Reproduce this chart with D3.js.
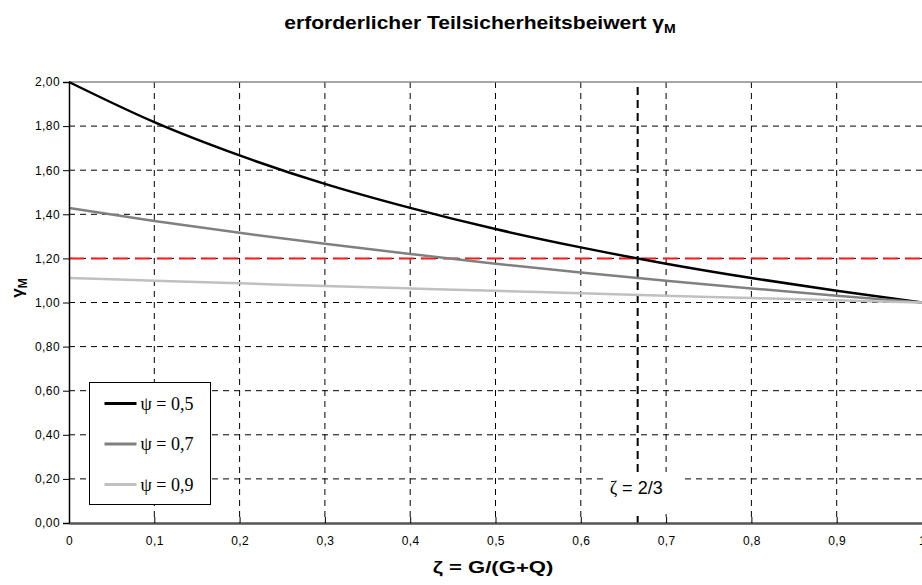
<!DOCTYPE html>
<html>
<head>
<meta charset="utf-8">
<script src="https://cdn.jsdelivr.net/npm/d3@7"></script>
<style>
body { margin: 0; background: #fff; }
text { font-family: Arial, "Liberation Sans", sans-serif; }
</style>
</head>
<body>
<svg width="922" height="585"></svg>
<script>
// zeta values along the x axis
var zeta = [0, 0.1, 0.2, 0.3, 0.4, 0.5, 0.6, 0.7, 0.8, 0.9, 1];
// gamma_M
var psi05 = [2.00, 1.818, 1.667, 1.538, 1.429, 1.333, 1.250, 1.176, 1.111, 1.053, 1.00];
var psi07 = [1.429, 1.370, 1.316, 1.266, 1.220, 1.176, 1.136, 1.099, 1.064, 1.031, 1.00];
var psi09 = [1.111, 1.099, 1.087, 1.075, 1.064, 1.053, 1.042, 1.031, 1.020, 1.010, 1.00];
var seriesNames = ["\u03C8 = 0,5", "\u03C8 = 0,7", "\u03C8 = 0,9"];
var seriesColors = ["#000000", "#808080", "#c0c0c0"];
var xTicks = [0, 0.1, 0.2, 0.3, 0.4, 0.5, 0.6, 0.7, 0.8, 0.9, 1];
var yTicks = [0, 0.2, 0.4, 0.6, 0.8, 1.0, 1.2, 1.4, 1.6, 1.8, 2.0];
var limitGamma = 1.2;   // red line
var markZeta = 2 / 3;   // vertical marker

var svg = d3.select("svg"),
    pL = 69, pR = 922, pT = 82, pB = 523;

var x = d3.scaleLinear().domain([0, 1]).range([pL, pR]),
    y = d3.scaleLinear().domain([0, 2]).range([pB, pT]);

var fmt = function(d) { return d === 0 || d === 1 ? String(d) : d3.format(".1f")(d).replace(".", ","); };
var fmtY = function(d) { return d3.format(".2f")(d).replace(".", ","); };

// grid
svg.append("g").selectAll("line")
    .data(yTicks.filter(function(d) { return d > 0 && d < 2; }))
    .enter().append("line")
    .attr("x1", pL).attr("x2", pR)
    .attr("y1", function(d) { return y(d); }).attr("y2", function(d) { return y(d); })
    .attr("stroke", "#000").attr("stroke-width", 1).attr("stroke-dasharray", "6,5");

svg.append("g").selectAll("line")
    .data(xTicks.filter(function(d) { return d > 0 && d < 1; }))
    .enter().append("line")
    .attr("x1", function(d) { return x(d); }).attr("x2", function(d) { return x(d); })
    .attr("y1", pT).attr("y2", pB)
    .attr("stroke", "#000").attr("stroke-width", 1).attr("stroke-dasharray", "6,5");

// top border
svg.append("line")
    .attr("x1", pL).attr("x2", pR).attr("y1", pT).attr("y2", pT)
    .attr("stroke", "#888").attr("stroke-width", 1.5);

// red limit line
svg.append("line")
    .attr("x1", pL).attr("x2", pR)
    .attr("y1", y(limitGamma)).attr("y2", y(limitGamma))
    .attr("stroke", "#ff1a1a").attr("stroke-width", 2).attr("stroke-dasharray", "15,7");

// vertical zeta = 2/3 marker
svg.append("line")
    .attr("x1", x(markZeta)).attr("x2", x(markZeta))
    .attr("y1", pT + 5).attr("y2", pB)
    .attr("stroke", "#000").attr("stroke-width", 2).attr("stroke-dasharray", "8,5");

// curves
var line = d3.line()
    .x(function(d) { return x(d[0]); })
    .y(function(d) { return y(d[1]); })
    .curve(d3.curveMonotoneX);

[psi05, psi07, psi09].forEach(function(vals, i) {
    svg.append("path")
        .datum(zeta.map(function(z, j) { return [z, vals[j]]; }))
        .attr("d", line)
        .attr("fill", "none")
        .attr("stroke", seriesColors[i])
        .attr("stroke-width", 2.5);
});

// marker label
var lab = svg.append("g").attr("transform", "translate(" + (x(markZeta) - 33) + "," + 472 + ")");
lab.append("rect").attr("width", 78).attr("height", 42).attr("fill", "#fff");
lab.append("text").attr("x", 5).attr("y", 22)
    .style("font-size", "18px")
    .html('<tspan style="font-family:\'Liberation Serif\',serif">\u03B6</tspan> = 2/3');

// axes
var yAxis = svg.append("g")
    .attr("transform", "translate(" + pL + ",0)")
    .call(d3.axisLeft(y).tickValues(yTicks).tickFormat(fmtY).tickSize(6).tickPadding(3));
yAxis.select(".domain").attr("stroke", "#000").attr("stroke-width", 1.5);
yAxis.selectAll("text").style("font-size", "12px").style("letter-spacing", "0.4px").attr("fill", "#000");

var xAxis = svg.append("g")
    .attr("transform", "translate(0," + pB + ")")
    .call(d3.axisBottom(x).tickValues(xTicks).tickFormat(fmt).tickSize(0).tickPadding(13));
xAxis.select(".domain").attr("stroke", "#555").attr("stroke-width", 2.5);
xAxis.selectAll("text").style("font-size", "12px").style("letter-spacing", "0.4px").attr("fill", "#000");
xAxis.selectAll(".tick").append("line").attr("y1", -6).attr("y2", 0).attr("stroke", "#000");

// legend
var leg = svg.append("g").attr("transform", "translate(89.5,382.5)");
leg.append("rect").attr("width", 121).attr("height", 122)
    .attr("fill", "#fff").attr("stroke", "#000").attr("stroke-width", 1);
seriesNames.forEach(function(n, i) {
    var yy = 21 + i * 40.5;
    leg.append("line").attr("x1", 15).attr("x2", 47).attr("y1", yy).attr("y2", yy)
        .attr("stroke", seriesColors[i]).attr("stroke-width", 3);
    leg.append("text").attr("x", 51).attr("y", yy + 6)
        .style("font-family", "'Liberation Serif', 'Times New Roman', serif")
        .style("font-size", "18px").text(n);
});

// titles (the original texts are a bit stretched horizontally)
svg.append("text").attr("transform", "translate(480,29) scale(1.17,1)").attr("text-anchor", "middle")
    .style("font-size", "18px").style("font-weight", "bold")
    .html('erforderlicher Teilsicherheitsbeiwert \u03B3<tspan dy="4" style="font-size:12px">M</tspan>');

svg.append("text").attr("transform", "translate(493,573) scale(1.3,1)").attr("text-anchor", "middle")
    .style("font-size", "17px").style("font-weight", "bold")
    .text("\u03B6 = G/(G+Q)");

svg.append("text").attr("transform", "translate(23,288) rotate(-90)").attr("text-anchor", "middle")
    .style("font-size", "17px").style("font-weight", "bold")
    .html('\u03B3<tspan dy="4" style="font-size:12px">M</tspan>');
</script>
</body>
</html>
